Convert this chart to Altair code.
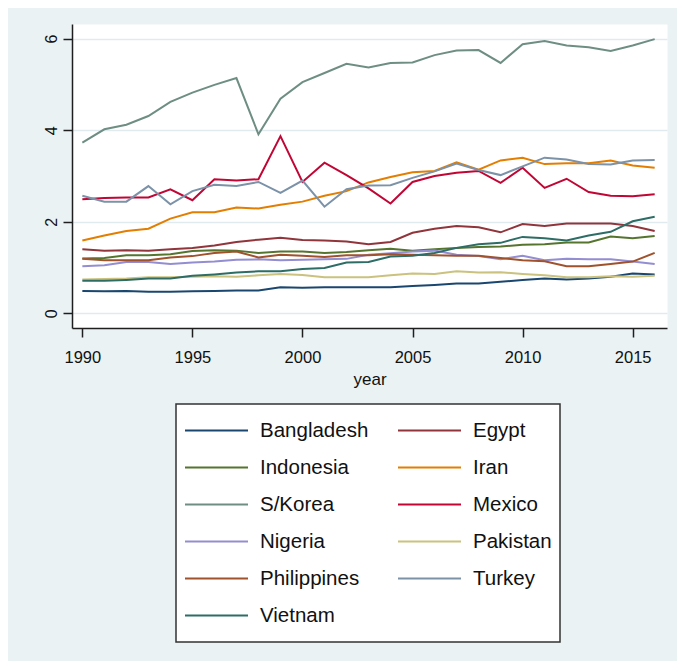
import altair as alt
import pandas as pd

FONT = "Liberation Sans, Arial, sans-serif"

years = [1990, 1991, 1992, 1993, 1994, 1995, 1996, 1997, 1998, 1999,
         2000, 2001, 2002, 2003, 2004, 2005, 2006, 2007, 2008, 2009,
         2010, 2011, 2012, 2013, 2014, 2015, 2016]

countries = ["Bangladesh", "Egypt", "Indonesia", "Iran", "S/Korea", "Mexico",
             "Nigeria", "Pakistan", "Philippines", "Turkey", "Vietnam"]

colors = ["#1a476f", "#90353b", "#55752f", "#e37e00", "#6e8e84", "#c10534",
          "#938dd2", "#cac27e", "#a0522d", "#7b92a8", "#2d6d66"]

bangladesh = [0.49, 0.48, 0.49, 0.47, 0.47, 0.48, 0.49, 0.50, 0.50, 0.57, 0.56, 0.57, 0.57, 0.57, 0.57,
              0.60, 0.62, 0.65, 0.65, 0.69, 0.73, 0.76, 0.74, 0.76, 0.80, 0.87, 0.85]
egypt = [1.40, 1.37, 1.38, 1.37, 1.40, 1.43, 1.48, 1.56, 1.61, 1.65, 1.60, 1.59, 1.57, 1.51, 1.56,
         1.76, 1.85, 1.91, 1.88, 1.77, 1.95, 1.91, 1.96, 1.96, 1.96, 1.91, 1.80]
indonesia = [1.20, 1.21, 1.27, 1.27, 1.29, 1.36, 1.38, 1.37, 1.32, 1.35, 1.35, 1.32, 1.34, 1.38, 1.41,
             1.37, 1.40, 1.43, 1.45, 1.46, 1.50, 1.51, 1.55, 1.55, 1.68, 1.64, 1.69]
iran = [1.59, 1.70, 1.80, 1.85, 2.07, 2.21, 2.21, 2.31, 2.29, 2.37, 2.44, 2.57, 2.67, 2.86, 2.98,
        3.08, 3.11, 3.30, 3.14, 3.34, 3.40, 3.26, 3.28, 3.28, 3.34, 3.23, 3.18]
skorea = [3.73, 4.02, 4.12, 4.31, 4.62, 4.82, 4.99, 5.14, 3.91, 4.69, 5.05, 5.25, 5.45, 5.37, 5.47,
          5.48, 5.64, 5.74, 5.75, 5.47, 5.88, 5.95, 5.85, 5.81, 5.73, 5.85, 5.99]
mexico = [2.49, 2.52, 2.53, 2.53, 2.71, 2.47, 2.93, 2.90, 2.93, 3.87, 2.87, 3.29, 3.02, 2.73, 2.40,
          2.87, 3.00, 3.07, 3.11, 2.85, 3.18, 2.74, 2.94, 2.65, 2.57, 2.56, 2.60]
nigeria = [1.03, 1.05, 1.12, 1.12, 1.08, 1.11, 1.13, 1.17, 1.18, 1.16, 1.17, 1.18, 1.19, 1.28, 1.31,
           1.35, 1.37, 1.28, 1.25, 1.18, 1.26, 1.16, 1.19, 1.18, 1.18, 1.13, 1.08]
pakistan = [0.74, 0.75, 0.76, 0.79, 0.79, 0.80, 0.81, 0.80, 0.83, 0.86, 0.84, 0.79, 0.79, 0.79, 0.83,
            0.87, 0.86, 0.92, 0.89, 0.90, 0.86, 0.83, 0.79, 0.79, 0.81, 0.80, 0.82]
philippines = [1.19, 1.16, 1.16, 1.16, 1.22, 1.25, 1.32, 1.35, 1.22, 1.28, 1.26, 1.23, 1.27, 1.27, 1.29,
               1.28, 1.27, 1.26, 1.26, 1.21, 1.16, 1.14, 1.03, 1.03, 1.08, 1.13, 1.32]
turkey = [2.57, 2.44, 2.44, 2.78, 2.38, 2.67, 2.81, 2.78, 2.87, 2.63, 2.90, 2.33, 2.71, 2.79, 2.80,
          2.96, 3.10, 3.27, 3.13, 3.02, 3.21, 3.40, 3.36, 3.26, 3.25, 3.34, 3.35]
vietnam = [0.71, 0.71, 0.73, 0.76, 0.76, 0.82, 0.85, 0.89, 0.92, 0.92, 0.97, 0.99, 1.11, 1.12, 1.24,
           1.26, 1.32, 1.43, 1.51, 1.54, 1.67, 1.64, 1.59, 1.70, 1.78, 2.01, 2.11]

series = [bangladesh, egypt, indonesia, iran, skorea, mexico,
          nigeria, pakistan, philippines, turkey, vietnam]

x_ticks = [1990, 1995, 2000, 2005, 2010, 2015]
y_ticks = [0, 2, 4, 6]

rows = []
for name, vals in zip(countries, series):
    for yr, v in zip(years, vals):
        rows.append({"country": name, "year": yr, "value": v})
df = pd.DataFrame(rows)

AXIS_COLOR = "#1e1e1e"

chart = alt.Chart(df).mark_line(strokeWidth=2).encode(
    x=alt.X(
        "year:Q",
        title="year",
        scale=alt.Scale(domain=[1989.53, 2016.56], nice=False, zero=False),
        axis=alt.Axis(
            values=x_ticks, format="d", grid=False,
            domainColor=AXIS_COLOR, domainWidth=1.5,
            tickColor=AXIS_COLOR, tickWidth=1.5, tickSize=9,
            labelFont=FONT, labelFontSize=16.5, labelColor="#111111",
            labelPadding=12, labelFlush=False,
            titleFont=FONT, titleFontSize=17, titleFontWeight="normal",
            titleColor="#111111", titlePadding=6,
        ),
    ),
    y=alt.Y(
        "value:Q",
        title=None,
        scale=alt.Scale(domain=[-0.32, 6.32], nice=False, zero=False),
        axis=alt.Axis(
            values=y_ticks, grid=True, gridColor="#e1ebef", gridWidth=1.5,
            domainColor=AXIS_COLOR, domainWidth=1.5,
            tickColor=AXIS_COLOR, tickWidth=1.5, tickSize=9,
            labelFont=FONT, labelFontSize=16, labelColor="#111111",
            labelAngle=-90, labelAlign="center", labelBaseline="alphabetic",
            labelPadding=7,
        ),
    ),
    color=alt.Color(
        "country:N",
        scale=alt.Scale(domain=countries, range=colors),
        legend=alt.Legend(
            title=None, orient="none", legendX=104, legendY=380,
            direction="horizontal",
            columns=2, symbolType="stroke", symbolSize=3969,
            symbolStrokeWidth=2, clipHeight=37,
            labelFont=FONT, labelFontSize=20.5, labelColor="#111111",
            labelOffset=11, labelLimit=300,
            columnPadding=28, rowPadding=0, padding=8,
            strokeColor="#333333", fillColor="white",
        ),
    ),
).properties(
    width=595,
    height=304,
    autosize=alt.AutoSizeParams(type="none"),
    padding={"left": 64, "top": 16, "right": 10, "bottom": 333},
    background="#eaf2f3",
).configure_view(
    fill="white", stroke="transparent"
).configure_legend(
    strokeWidth=1.5
)

chart.save("out.html", embed_options={"renderer": "svg", "actions": False})
